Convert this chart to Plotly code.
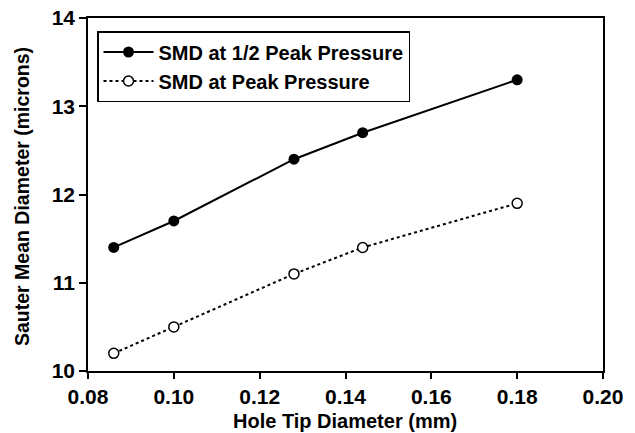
import plotly.graph_objects as go

hole_tip_mm = [0.086, 0.10, 0.128, 0.144, 0.18]
smd_half_peak = [11.4, 11.7, 12.4, 12.7, 13.3]
smd_peak = [10.2, 10.5, 11.1, 11.4, 11.9]
x_ticks = [0.08, 0.10, 0.12, 0.14, 0.16, 0.18, 0.20]
y_ticks = [10, 11, 12, 13, 14]
x_title = "Hole Tip Diameter (mm)"
y_title = "Sauter Mean Diameter (microns)"

FONT = "Liberation Sans, Arial, sans-serif"
W, H = 635, 433
L, R, T, B = 88, 32, 18, 62

fig = go.Figure()
fig.add_trace(go.Scatter(
    x=hole_tip_mm, y=smd_half_peak, mode="lines+markers",
    name="<b>SMD at 1/2 Peak Pressure</b>",
    line=dict(color="black", width=2, dash="solid"),
    marker=dict(symbol="circle", size=11, color="black"),
))
fig.add_trace(go.Scatter(
    x=hole_tip_mm, y=smd_peak, mode="lines+markers",
    name="<b>SMD at Peak Pressure</b>",
    line=dict(color="black", width=2, dash="dot"),
    marker=dict(symbol="circle", size=10, color="white",
                line=dict(color="black", width=1.5)),
))

pw = W - L - R
ph = H - T - B

fig.update_layout(
    width=W, height=H,
    margin=dict(l=L, r=R, t=T, b=B, autoexpand=False),
    paper_bgcolor="white", plot_bgcolor="white",
    font=dict(family=FONT, color="black"),
    showlegend=True,
    legend=dict(
        x=(97 - L) / pw, y=1 - (31 - T) / ph, xanchor="left", yanchor="top",
        bgcolor="white", bordercolor="black", borderwidth=1.5,
        font=dict(size=20, family=FONT, color="black"),
        tracegroupgap=0, itemwidth=50,
    ),
    xaxis=dict(
        range=[0.08, 0.20], tickvals=x_ticks,
        ticktext=[f"<b>{v:.2f}</b>" for v in x_ticks],
        ticks="outside", ticklen=6, tickwidth=1.5, tickcolor="black",
        showline=True, linecolor="black", linewidth=1.5, mirror=True,
        showgrid=False, zeroline=False, automargin=False,
        tickfont=dict(size=21, family=FONT, color="black"),
    ),
    yaxis=dict(
        range=[10, 14], tickvals=y_ticks,
        ticktext=[f"<b>{v}</b>" for v in y_ticks],
        ticks="outside", ticklen=7, tickwidth=1.5, tickcolor="black",
        showline=True, linecolor="black", linewidth=1.5, mirror=True,
        showgrid=False, zeroline=False, automargin=False,
        tickfont=dict(size=21, family=FONT, color="black"),
    ),
    annotations=[
        dict(text=f"<b>{x_title}</b>", xref="paper", yref="paper",
             x=(345 - L) / pw, y=-(421 - (H - B)) / ph,
             xanchor="center", yanchor="middle", showarrow=False,
             font=dict(size=20, family=FONT, color="black")),
        dict(text=f"<b>{y_title}</b>", xref="paper", yref="paper",
             x=-(L - 22) / pw, y=1 - (197 - T) / ph, textangle=-90,
             xanchor="center", yanchor="middle", showarrow=False,
             font=dict(size=19.5, family=FONT, color="black")),
    ],
)

fig.write_html("out.html")
